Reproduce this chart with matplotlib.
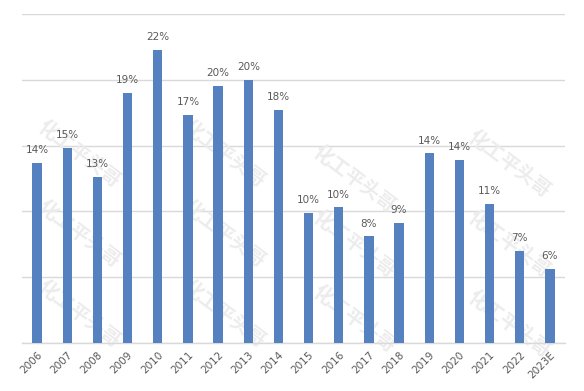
import matplotlib
matplotlib.use("Agg")
import matplotlib.pyplot as plt

years = ["2006", "2007", "2008", "2009", "2010", "2011", "2012", "2013", "2014",
         "2015", "2016", "2017", "2018", "2019", "2020", "2021", "2022", "2023E"]
values = [13.7, 14.8, 12.6, 19.0, 22.3, 17.3, 19.5, 20.0, 17.7,
          9.9, 10.3, 8.1, 9.1, 14.4, 13.9, 10.6, 7.0, 5.6]
labels = ["14%", "15%", "13%", "19%", "22%", "17%", "20%", "20%", "18%",
          "10%", "10%", "8%", "9%", "14%", "14%", "11%", "7%", "6%"]

plt.rcParams['font.family'] = ['Noto Sans CJK SC', 'DejaVu Sans']

fig = plt.figure(figsize=(5.84, 3.91), dpi=100)
ax = fig.add_axes([22/584, 1-343/391, 543/584, (343-14)/391])

# faint watermark (behind bars)
wm_px = [(40, 125), (40, 205), (40, 285), (185, 125), (185, 205), (185, 285),
         (315, 150), (315, 215), (315, 290), (470, 135), (470, 215), (470, 295)]
for (px, py) in wm_px:
    ax.text(px / 584, 1 - py / 391, "化工平头哥", transform=fig.transFigure,
            rotation=-37, rotation_mode="anchor", ha="left", va="center",
            fontsize=14, color="#ececec", fontweight="bold", zorder=1,
            clip_on=False)

x = list(range(len(years)))
ax.bar(x, values, width=0.31, color="#5681C0", zorder=3)
for xi, v, lab in zip(x, values, labels):
    ax.text(xi, v + 0.6, lab, ha="center", va="bottom", fontsize=7.5,
            color="#595959", zorder=4, family="DejaVu Sans")

ax.set_xlim(-0.5, len(years) - 0.5)
ax.set_ylim(0, 25)
ax.set_yticks([0, 5, 10, 15, 20, 25])
ax.yaxis.grid(True, color="#D9D9D9", linewidth=1, zorder=0)
ax.set_yticklabels([])
ax.tick_params(axis="y", length=0)
ax.set_xticks(x)
ax.set_xticklabels(years, rotation=45, ha="right", rotation_mode="anchor",
                   fontsize=7.5, color="#595959", family="DejaVu Sans")
ax.tick_params(axis="x", length=0, pad=5)
for s in ["top", "right", "left"]:
    ax.spines[s].set_visible(False)
ax.spines["bottom"].set_color("#D9D9D9")
ax.spines["bottom"].set_linewidth(1)
ax.set_facecolor("none")
ax.set_axisbelow(True)

fig.savefig("out.png", dpi=100)
